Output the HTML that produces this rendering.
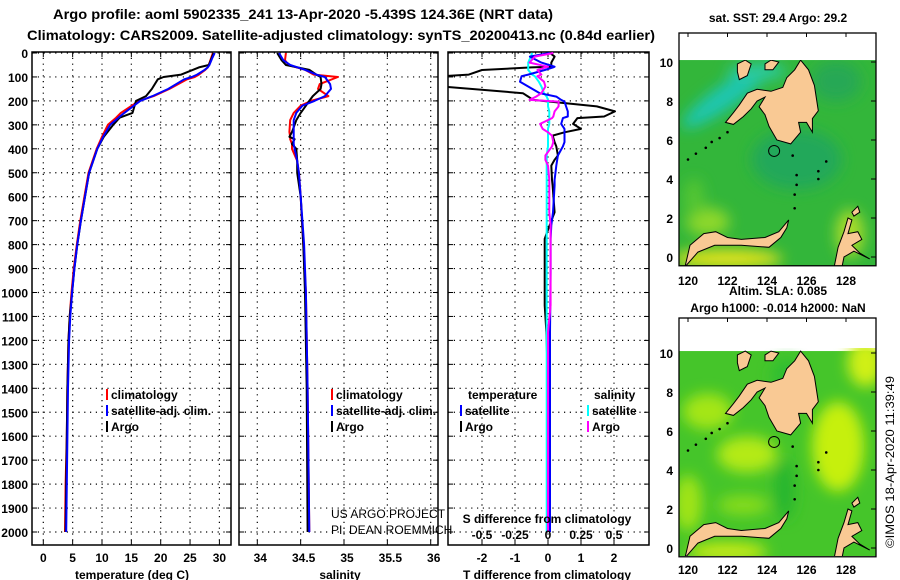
<!DOCTYPE html>
<html><head><meta charset="utf-8"><style>
html,body{margin:0;padding:0;background:#fff;}
svg{display:block;font-family:"Liberation Sans",sans-serif;}
.b{font-weight:bold;}
</style></head><body>
<svg id="chart" width="900" height="580" viewBox="0 0 900 580" xmlns="http://www.w3.org/2000/svg">
<defs>
<filter id="blur" x="-50%" y="-50%" width="200%" height="200%"><feGaussianBlur stdDeviation="7"/></filter>
<clipPath id="mc1"><rect x="679" y="60" width="197" height="206"/></clipPath>
<clipPath id="mc2"><rect x="679" y="348" width="197" height="208"/></clipPath>
<clipPath id="pc1"><rect x="32" y="52" width="199" height="493"/></clipPath>
<clipPath id="pc2"><rect x="239" y="52" width="199" height="493"/></clipPath>
<clipPath id="pc3"><rect x="448" y="52" width="201" height="493"/></clipPath>
</defs>
<text class="b" x="53" y="19" font-size="14" textLength="500" lengthAdjust="spacingAndGlyphs">Argo profile: aoml 5902335_241 13-Apr-2020 -5.439S 124.36E (NRT data)</text>
<text class="b" x="27" y="40" font-size="14" textLength="628" lengthAdjust="spacingAndGlyphs">Climatology: CARS2009. Satellite-adjusted climatology: synTS_20200413.nc (0.84d earlier)</text>
<g id="plots"></g>
<g id="maps"></g>
<text x="894" y="548" font-size="12" transform="rotate(-90 894 548)" textLength="172" lengthAdjust="spacingAndGlyphs">©IMOS 18-Apr-2020 11:39:49</text>
</svg>
<script>
// ---- data ----
const tDepths  = [0,20,50,60,70,90,100,110,150,180,200,250,270,300,350,400,500,600,700,800,900,1000,1100,1200,1400,1600,1800,2000];
const tArgo    = [29.0,28.7,28.2,26.5,25.5,23.5,20.5,19.5,18.5,17.5,15.8,15.2,13.0,11.9,10.3,9.2,7.8,7.1,6.4,5.8,5.3,4.9,4.5,4.3,4.1,4.0,3.9,3.8];
const tClim    = [28.9,28.6,28.2,28.0,27.6,26.5,25.8,24.5,21.5,18.8,16.3,13.2,12.4,11.0,10.0,9.1,7.7,7.0,6.3,5.7,5.2,4.8,4.5,4.3,4.1,4.0,3.8,3.7];
const tSat     = [29.2,28.8,28.3,28.0,27.5,26.2,25.3,24.0,21.3,18.6,16.5,13.8,12.8,11.4,10.2,9.2,7.8,7.1,6.4,5.8,5.3,4.9,4.6,4.4,4.2,4.1,4.0,3.9];
const sDepths  = [0,30,50,70,90,100,130,150,180,200,220,250,280,330,350,360,380,400,450,500,600,800,1000,1400,2000];
const sArgo    = [34.23,34.28,34.33,34.6,34.68,34.73,34.74,34.73,34.64,34.6,34.56,34.5,34.45,34.4,34.37,34.43,34.4,34.45,34.46,34.46,34.5,34.53,34.55,34.57,34.58];
const sClim    = [34.33,34.32,34.36,34.55,34.65,34.93,34.72,34.7,34.82,34.62,34.5,34.42,34.38,34.37,34.38,34.38,34.4,34.4,34.46,34.48,34.5,34.53,34.56,34.58,34.6];
const sSat     = [34.25,34.3,34.38,34.55,34.68,34.78,34.84,34.85,34.78,34.66,34.52,34.45,34.42,34.42,34.42,34.42,34.42,34.43,34.46,34.48,34.5,34.54,34.56,34.58,34.6];
const dDepths  = [0,15,40,57,60,71,90,97,120,140,168,182,196,203,223,244,265,272,296,317,331,345,372,390,428,446,470,530,553,665,720,776,915,1054,1165,1400,1700,2000];
const dTArgo   = [0.06,0.2,0.1,0.1,-0.5,-2.0,-2.4,-3.2,-3.2,-3.2,-0.76,-0.6,-0.45,0.06,1.48,2.03,1.7,0.89,0.76,1.0,0.5,0.14,0.2,0.25,0.3,0.2,0.1,0.12,0.14,0.2,0.05,-0.1,-0.1,-0.1,-0.05,0.0,0.02,0.02];
const dTSat    = [0.05,-0.55,-0.2,0.2,0.15,-0.1,-0.6,-0.8,-0.85,-0.6,-0.25,0.25,0.4,0.5,0.55,0.6,0.6,0.45,0.4,0.5,0.5,0.5,0.5,0.45,0.3,0.28,0.25,0.2,0.2,0.15,0.1,0.08,0.08,0.07,0.06,0.06,0.06,0.06];
const dSSat    = [-0.12,-0.13,-0.15,-0.15,-0.15,-0.15,-0.12,-0.1,-0.07,-0.05,-0.03,-0.01,0.0,0.0,0.0,0.01,0.01,0.01,0.01,0.0,0.0,0.0,0.0,0.0,-0.01,-0.01,-0.01,-0.01,-0.01,-0.01,-0.01,-0.01,-0.01,-0.01,-0.01,-0.01,-0.01,-0.01];
const dSArgo   = [0.04,-0.1,-0.14,0.0,-0.02,-0.08,-0.05,-0.08,-0.03,-0.02,-0.05,-0.09,-0.14,0.08,0.08,0.05,0.04,0.03,-0.06,-0.04,0.0,0.03,0.04,0.03,-0.02,-0.02,0.0,0.01,0.01,0.01,0.02,0.02,0.02,0.02,0.0,0.0,0.0,0.0];
const depthTicks = [0,100,200,300,400,500,600,700,800,900,1000,1100,1200,1300,1400,1500,1600,1700,1800,1900,2000];
const tTicks = [0,5,10,15,20,25,30];
const sTicks = [34,34.5,35,35.5,36];
const sTickLabels = ["34","34.5","35","35.5","36"];
const dTTicks = [-2,-1,0,1,2];
const dSTicks = [-0.5,-0.25,0,0.25,0.5];
const latTicks = [0,2,4,6,8,10];
const lonTicks = [120,122,124,126,128];

const NS='http://www.w3.org/2000/svg';
function mk(tag,attrs,parent,text){const e=document.createElementNS(NS,tag);for(const k in attrs)e.setAttribute(k,attrs[k]);if(text!==undefined)e.textContent=text;parent.appendChild(e);return e;}
const yD = d => 53 + d*0.2395;
const xT = t => 43.3 + t*5.87;
const xS = s => 257.3 + (s-34)*86.7;
const xDT = v => 548 + v*33;
const xDS = v => 548 + v*132;
const plots=document.getElementById('plots');

function panel(name,x0,x1,xs,clip){
  const g=mk('g',{},plots);
  
  
  depthTicks.forEach(d=>{mk('line',{x1:x0,x2:x1,y1:yD(d),y2:yD(d),stroke:'#000','stroke-width':1.2,'stroke-dasharray':'1.2 4.6'},g);
    mk('line',{x1:x0,x2:x0+5,y1:yD(d),y2:yD(d),stroke:'#000'},g);mk('line',{x1:x1-5,x2:x1,y1:yD(d),y2:yD(d),stroke:'#000'},g);});
  xs.forEach(x=>{mk('line',{x1:x,x2:x,y1:52,y2:545,stroke:'#000','stroke-width':1.2,'stroke-dasharray':'1.2 4.6'},g);
    mk('line',{x1:x,x2:x,y1:52,y2:57,stroke:'#000'},g);mk('line',{x1:x,x2:x,y1:540,y2:545,stroke:'#000'},g);});
  mk('rect',{x:x0,y:52,width:x1-x0,height:493,fill:'none',stroke:'#000','stroke-width':1.5},g);
  return g;
}
function line(g,depths,vals,fx,color,name,w){
  const pts=depths.map((d,i)=>fx(vals[i]).toFixed(1)+','+yD(d).toFixed(1)).join(' ');
  const p=mk('polyline',{points:pts,fill:'none',stroke:color,'stroke-width':w||2,'stroke-linejoin':'round'},g);
  
  
}
depthTicks.forEach(d=>{const t=mk('text',{x:28,y:yD(d)+5,'font-size':12,'text-anchor':'end',class:'b'},plots,String(d));
  
  });

const g1=panel('temperature-panel',32,231,tTicks.map(xT));
const c1=mk('g',{'clip-path':'url(#pc1)'},g1);
line(c1,tDepths,tClim,xT,'#f00','temperature-climatology-line');
line(c1,tDepths,tArgo,xT,'#000','temperature-argo-line');
line(c1,tDepths,tSat,xT,'#00f','temperature-satellite-line');
tTicks.forEach(t=>{const e=mk('text',{x:xT(t),y:562,'font-size':12,'text-anchor':'middle',class:'b'},plots,String(t));
  
  });
mk('text',{x:132,y:579,'font-size':12,'text-anchor':'middle',class:'b',},plots,'temperature (deg C)');

const g2=panel('salinity-panel',239,438,sTicks.map(xS));
const c2=mk('g',{'clip-path':'url(#pc2)'},g2);
line(c2,sDepths,sClim,xS,'#f00','salinity-climatology-line');
line(c2,sDepths,sArgo,xS,'#000','salinity-argo-line');
line(c2,sDepths,sSat,xS,'#00f','salinity-satellite-line');
sTicks.forEach((s,i)=>{const e=mk('text',{x:xS(s)+3,y:562,'font-size':12,'text-anchor':'middle',class:'b'},plots,sTickLabels[i]);
  
  });
mk('text',{x:340,y:579,'font-size':12,'text-anchor':'middle',class:'b',},plots,'salinity');

const g3=panel('difference-panel',448,649,dTTicks.map(xDT));
const c3=mk('g',{'clip-path':'url(#pc3)'},g3);
line(c3,dDepths,dTArgo,xDT,'#000','t-diff-argo-line');
line(c3,dDepths,dSSat,xDS,'#0ff','s-diff-satellite-line');
line(c3,dDepths,dTSat,xDT,'#00f','t-diff-satellite-line');
line(c3,dDepths,dSArgo,xDS,'#f0f','s-diff-argo-line');
dTTicks.forEach(t=>{const e=mk('text',{x:xDT(t),y:562,'font-size':12,'text-anchor':'middle',class:'b'},plots,String(t));
  
  });
dSTicks.forEach(t=>{const e=mk('text',{x:xDS(t),y:539,'font-size':12,'text-anchor':'middle',class:'b'},plots,String(t));
  
  });
mk('text',{x:547,y:523,'font-size':12,'text-anchor':'middle',class:'b',},plots,'S difference from climatology');
mk('text',{x:547,y:579,'font-size':12,'text-anchor':'middle',class:'b',},plots,'T difference from climatology');
mk('text',{x:331,y:518,'font-size':12,},plots,'US ARGO PROJECT');
mk('text',{x:331,y:534,'font-size':12,},plots,'PI: DEAN ROEMMICH');

function leg(x,y,color,label,name){
  const g=mk('g',{},plots);
  
  
  mk('rect',{x:x-1,y:y-10,width:2,height:11,fill:color},g);
  mk('text',{x:x+4,y:y,'font-size':12,class:'b'},g,label);
}
leg(107,399,'#f00','climatology','legend-temp-climatology');
leg(107,415,'#00f','satellite-adj. clim.','legend-temp-satellite');
leg(107,431,'#000','Argo','legend-temp-argo');
leg(332,399,'#f00','climatology','legend-sal-climatology');
leg(332,415,'#00f','satellite-adj. clim.','legend-sal-satellite');
leg(332,431,'#000','Argo','legend-sal-argo');
mk('text',{x:468,y:399,'font-size':12,class:'b',},plots,'temperature');
mk('text',{x:594,y:399,'font-size':12,class:'b',},plots,'salinity');
leg(461,415,'#00f','satellite','legend-tdiff-satellite');
leg(461,431,'#000','Argo','legend-tdiff-argo');
leg(588,415,'#0ff','satellite','legend-sdiff-satellite');
leg(588,431,'#f0f','Argo','legend-sdiff-argo');

// ---- maps ----
const maps=document.getElementById('maps');
const mindanao=[[121.9,6.9],[122.3,7.4],[122.6,7.8],[123.0,8.4],[123.5,8.6],[124.2,8.5],[124.8,8.7],[125.0,9.2],[125.4,9.6],[125.7,10.1],[126.1,9.6],[126.4,8.8],[126.6,7.5],[126.3,7.1],[126.3,6.4],[126.0,6.9],[125.6,6.9],[125.7,6.4],[125.2,5.8],[124.5,6.0],[124.1,6.7],[123.9,7.3],[123.6,7.7],[123.9,8.2],[123.5,8.0],[123.2,7.6],[122.8,7.2],[122.3,6.8]];
const negros=[[122.5,9.9],[122.9,10.1],[123.2,9.9],[123.0,9.3],[122.6,9.1],[122.5,9.5]];
const bohol=[[123.9,9.9],[124.2,10.1],[124.6,10.0],[124.3,9.6],[123.9,9.6]];
const sulawesi=[[120.8,1.2],[121.4,1.3],[122.0,1.0],[122.7,0.9],[123.9,1.0],[124.6,1.3],[125.1,1.9],[125.0,1.5],[124.7,1.0],[124.1,0.5],[122.7,0.6],[121.35,0.6],[120.5,0.25],[119.85,-0.5],[120.1,0.6]];
const halmahera=[[127.4,-0.5],[127.6,0.5],[127.9,1.3],[128.1,2.0],[128.3,1.9],[128.1,1.2],[128.6,1.3],[128.8,0.9],[128.3,0.6],[128.7,0.2],[129.2,-0.1],[128.4,0.3],[127.9,0.0],[127.8,-0.5]];
const morotai=[[128.3,2.3],[128.6,2.6],[128.7,2.3],[128.4,2.1]];
const islets=[[120.0,5.0],[120.4,5.3],[120.9,5.6],[121.2,5.9],[121.6,6.1],[122.0,6.4],[126.6,4.4],[126.6,4.0],[125.5,3.7],[125.4,3.2],[125.4,2.5],[125.5,4.2],[125.3,5.2],[127.0,4.9]];
function map(y0,latY0,name,bg,blobs,title1,title2,ty1,ty2,lonLabY,clip){
  const g=mk('g',{},maps);
  
  
  const px=lon=>688+(lon-120)*19.75, py=lat=>latY0-lat*19.5;
  const cg=mk('g',{'clip-path':'url(#'+clip+')'},g);
  mk('rect',{x:679,y:py(10.1),width:197,height:220,fill:bg},cg);
  const bg2=mk('g',{filter:'url(#blur)'},cg);
  blobs.forEach(b=>mk('ellipse',{cx:px(b[0]),cy:py(b[1]),rx:b[2],ry:b[3],fill:b[4],transform:'rotate('+(b[5]||0)+' '+px(b[0])+' '+py(b[1])+')'},bg2));
  [mindanao,negros,bohol,sulawesi,halmahera,morotai].forEach(poly=>{
    const p=mk('polygon',{points:poly.map(q=>px(q[0]).toFixed(1)+','+py(q[1]).toFixed(1)).join(' '),fill:'#f9c994',stroke:'#000','stroke-width':1},cg);
    
    
  });
  islets.forEach(q=>mk('circle',{cx:px(q[0]),cy:py(q[1]),r:1.3,fill:'#000'},cg));
  mk('circle',{cx:px(124.36),cy:py(5.439),r:5.5,fill:'none',stroke:'#000','stroke-width':1},g);
  mk('rect',{x:679,y:y0,width:197,height:py(-0.45)-y0,fill:'none',stroke:'#000','stroke-width':1.3},g);
  latTicks.forEach(l=>{mk('text',{x:673,y:py(l)+5,'font-size':12,'text-anchor':'end',class:'b'},g,String(l));
    mk('line',{x1:876,x2:871,y1:py(l),y2:py(l),stroke:'#000'},g);});
  lonTicks.forEach(l=>{mk('text',{x:px(l),y:lonLabY,'font-size':12,'text-anchor':'middle',class:'b'},g,String(l));
    mk('line',{x1:px(l),x2:px(l),y1:y0,y2:y0+4,stroke:'#000'},g);});
  mk('text',{x:778,y:ty1,'font-size':12,'text-anchor':'middle',class:'b'},g,title1);
  if(title2) mk('text',{x:778,y:ty2,'font-size':12,'text-anchor':'middle',class:'b'},g,title2);
}
map(33,257,'sst-map','#33b63a',[[122,8.3,55,12,'#1ec6b0',-35],[123.5,9.5,30,8,'#2ccaa0',0],[125.5,5,45,30,'#22a85a',0],[122,-0.1,55,10,'#e0e21a',0],[121,1.8,22,14,'#8ed82a',0],[128.2,1.2,14,24,'#a8dc2a',0],[127.5,9,25,20,'#25a855',0],[120.3,3,10,20,'#55c630',0]],
  'sat. SST: 29.4 Argo: 29.2','',22,0,285,'mc1');
map(318,548,'sla-map','#45c52a',[[121,7,25,18,'#a4e614',0],[123,4.8,30,18,'#b4ea14',0],[127.6,5.2,26,45,'#c6f00c',0],[120,2.3,14,28,'#a0e418',0],[122.8,2.2,26,10,'#86dc1c',0],[129,9.5,18,24,'#d0f012',0],[124.9,3,10,30,'#28b52e',0],[122,-0.2,40,10,'#c4ea14',0],[125,8.8,15,18,'#2fbd30',0]],
  'Altim. SLA: 0.085','Argo h1000: -0.014 h2000: NaN',295,312,574,'mc2');
</script>
</body></html>
